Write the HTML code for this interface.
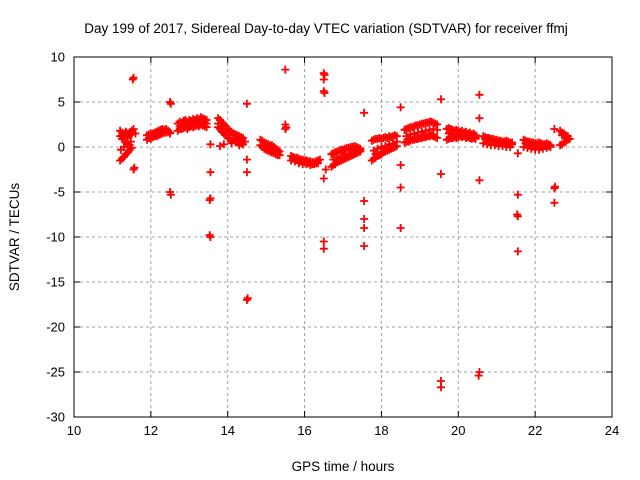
<!DOCTYPE html>
<html><head><meta charset="utf-8"><style>
body{margin:0;background:#fff}
svg{display:block;font-family:"Liberation Sans",sans-serif}
</style></head><body>
<svg id="chart" width="640" height="480" viewBox="0 0 640 480">
<text x="326" y="33" font-size="13.5" text-anchor="middle">Day 199 of 2017, Sidereal Day-to-day VTEC variation (SDTVAR) for receiver ffmj</text>
<text x="343" y="471" font-size="13.5" text-anchor="middle">GPS time / hours</text>
<text transform="translate(19,237) rotate(-90)" font-size="13.5" text-anchor="middle">SDTVAR / TECUs</text>
<g id="grid"></g>
<g id="ticks"></g>
<g id="pts" stroke="#f00" stroke-width="1.8"></g>
<rect x="74" y="57" width="538" height="360" fill="none" stroke="#000" stroke-width="1"/>
</svg>
<script>
const xTicks=[10,12,14,16,18,20,22,24];
const yTicks=[10,5,0,-5,-10,-15,-20,-25,-30];
const hours=[
11.2,11.25,11.3,11.35,11.4,11.45,11.5,11.2,11.25,11.3,11.35,11.4,11.45,11.5,11.2,11.25,11.3,11.35,11.4,11.45,11.5,11.22,11.3,11.4,11.48,
11.55,11.55,11.55,11.6,11.53,11.57,
11.9,11.95,12.0,12.05,12.1,12.15,12.2,12.25,12.3,12.35,12.4,12.45,12.5,11.9,11.95,12.0,12.05,12.1,12.15,12.2,12.25,12.3,12.35,12.4,12.45,12.5,
12.5,12.5,12.52,12.52,
12.7,12.75,12.8,12.85,12.9,12.95,13.0,13.05,13.1,13.15,13.2,13.25,13.3,13.35,13.4,13.45,12.7,12.75,12.8,12.85,12.9,12.95,13.0,13.05,13.1,13.15,13.2,13.25,13.3,13.35,13.4,13.45,12.8,13.0,13.2,13.4,
13.55,13.55,13.55,13.55,13.53,13.53,
13.75,13.8,13.85,13.9,13.95,14.0,14.05,14.1,14.15,14.2,14.25,14.3,14.35,14.4,13.75,13.8,13.85,13.9,13.95,14.0,14.05,14.1,14.15,14.2,14.25,14.3,14.35,14.4,13.8,13.9,14.1,14.3,
14.5,14.5,14.5,14.5,14.52,
14.85,14.9,14.95,15.0,15.05,15.1,15.15,15.2,15.25,15.3,15.35,14.85,14.9,14.95,15.0,15.05,15.1,15.15,15.2,15.25,15.3,15.35,
15.5,15.5,15.5,15.52,
15.65,15.7,15.75,15.8,15.85,15.9,15.95,16.0,16.05,16.1,16.15,16.2,16.25,16.3,16.35,16.4,15.65,15.75,15.85,15.95,16.05,16.15,16.25,16.35,
16.5,16.5,16.5,16.5,16.5,16.5,16.55,16.52,16.52,
16.7,16.75,16.8,16.85,16.9,16.95,17.0,17.05,17.1,17.15,17.2,17.25,17.3,17.35,17.4,17.45,16.7,16.75,16.8,16.85,16.9,16.95,17.0,17.05,17.1,17.15,17.2,17.25,17.3,17.35,17.4,17.45,
17.55,17.55,17.55,17.55,17.55,
17.75,17.8,17.85,17.9,17.95,18.0,18.05,18.1,18.15,18.2,18.25,18.3,18.35,18.4,17.75,17.8,17.85,17.9,17.95,18.0,18.05,18.1,18.15,18.2,18.25,18.3,18.35,18.4,
18.5,18.5,18.5,18.5,
18.6,18.65,18.7,18.75,18.8,18.85,18.9,18.95,19.0,19.05,19.1,19.15,19.2,19.25,19.3,19.35,19.4,19.45,18.6,18.65,18.7,18.75,18.8,18.85,18.9,18.95,19.0,19.05,19.1,19.15,19.2,19.25,19.3,19.35,19.4,19.45,
19.55,19.55,19.55,19.55,
19.7,19.75,19.8,19.85,19.9,19.95,20.0,20.05,20.1,20.15,20.2,20.25,20.3,20.35,20.4,20.45,19.7,19.75,19.8,19.85,19.9,19.95,20.0,20.05,20.1,20.15,20.2,20.25,20.3,20.35,20.4,20.45,
20.55,20.55,20.55,20.55,20.53,
20.65,20.7,20.75,20.8,20.85,20.9,20.95,21.0,21.05,21.1,21.15,21.2,21.25,21.3,21.35,21.4,20.65,20.75,20.85,20.95,21.05,21.15,21.25,21.35,
21.55,21.55,21.55,21.55,21.53,
21.7,21.75,21.8,21.85,21.9,21.95,22.0,22.05,22.1,22.15,22.2,22.25,22.3,22.35,22.4,21.7,21.8,21.9,22.0,22.1,22.2,22.3,22.4,
22.5,22.5,22.5,22.52,
22.65,22.7,22.75,22.8,22.85,22.65,22.7,22.75,22.8,22.85,
12.75,12.85,12.95,13.05,13.15,13.25,13.35,13.45,12.0,12.1,12.2,12.3,12.4,
13.75,13.85,13.95,14.05,14.15,14.25,14.35,14.45,
14.9,15.0,15.1,15.2,15.3,15.7,15.8,15.9,16.0,16.1,16.2,16.3,
16.75,16.85,16.95,17.05,17.15,17.25,17.35,17.45,16.8,17.0,17.2,17.4,
17.8,17.9,18.0,18.1,18.2,18.3,18.4,17.85,18.05,18.25,
18.65,18.75,18.85,18.95,19.05,19.15,19.25,19.35,19.45,18.7,18.9,19.1,19.3,
19.75,19.85,19.95,20.05,20.15,20.25,20.35,20.45,
20.7,20.8,20.9,21.0,21.1,21.2,21.3,21.4,
21.75,21.85,21.95,22.05,22.15,22.25,22.35,
22.7,22.8,22.9,11.25,11.35,11.45
];
const sdtvar=[
1.8,1.6,1.5,1.7,1.5,1.6,1.8,1.2,1.3,1.0,1.2,1.1,1.3,1.4,-1.5,-1.3,-1.1,-0.8,-0.6,-0.3,-0.1,-0.3,0.0,0.3,0.6,
7.7,-2.5,2.0,1.5,7.5,-2.3,
0.8,1.0,0.9,1.1,1.2,1.2,1.3,1.4,1.5,1.6,1.6,1.7,1.6,1.3,1.4,1.5,1.5,1.6,1.7,1.8,1.9,2.0,1.9,2.0,1.8,1.5,
5.0,-5.0,4.8,-5.3,
1.8,2.0,2.0,2.1,2.2,2.0,2.2,2.3,2.2,2.3,2.4,2.3,2.5,2.4,2.3,2.2,2.6,2.8,2.7,2.9,3.0,2.8,3.0,2.9,3.1,3.0,3.2,3.1,3.3,3.2,3.1,3.0,2.2,2.5,2.6,2.8,
0.3,-2.8,-5.7,-10.0,-5.9,-9.8,
3.2,3.0,2.7,2.5,2.3,2.0,1.8,1.7,1.5,1.4,1.3,1.2,1.1,1.0,2.2,2.0,1.7,1.5,1.3,1.0,0.9,0.7,0.8,0.6,0.7,0.5,0.4,0.3,0.1,0.3,0.4,0.2,
4.8,-1.4,-2.8,-17.0,-16.8,
0.8,0.7,0.5,0.4,0.3,0.2,0.2,0.0,-0.2,-0.3,-0.5,0.2,0.0,-0.2,-0.3,-0.4,-0.5,-0.6,-0.7,-0.8,-0.9,-0.9,
8.6,2.5,2.0,2.2,
-1.0,-1.1,-1.2,-1.2,-1.3,-1.4,-1.4,-1.5,-1.5,-1.6,-1.6,-1.7,-1.7,-1.6,-1.5,-1.4,-1.5,-1.6,-1.8,-1.9,-1.9,-2.0,-1.9,-1.8,
8.2,7.5,6.2,-3.5,-10.5,-11.3,-2.5,8.0,6.0,
-2.2,-2.0,-1.9,-1.7,-1.6,-1.5,-1.4,-1.3,-1.2,-1.1,-1.0,-0.9,-0.8,-0.7,-0.6,-0.5,-0.8,-0.7,-0.6,-0.5,-0.4,-0.3,-0.3,-0.2,-0.1,-0.1,0.0,0.0,0.1,0.0,-0.1,-0.2,
3.8,-6.0,-8.0,-9.0,-11.0,
-1.5,-1.3,-1.2,-1.0,-0.9,-0.8,-0.6,-0.5,-0.4,-0.3,-0.2,-0.1,0.0,0.1,0.7,0.8,0.9,0.9,1.0,0.9,1.0,1.1,1.0,1.2,1.1,1.2,1.3,1.2,
4.4,-2.0,-4.5,-9.0,
0.5,0.6,0.6,0.7,0.8,0.8,0.9,0.9,1.0,1.0,1.1,1.1,1.2,1.2,1.3,1.2,1.1,1.0,1.9,2.0,2.1,2.2,2.2,2.3,2.4,2.4,2.5,2.6,2.6,2.7,2.7,2.8,2.8,2.7,2.6,2.5,
5.3,-3.0,-26.0,-26.7,
0.8,0.9,1.0,1.0,1.1,1.0,1.1,1.2,1.1,1.2,1.0,1.1,1.0,0.9,1.0,0.9,2.0,2.1,2.0,1.9,1.8,1.9,1.8,1.7,1.8,1.6,1.7,1.5,1.6,1.4,1.5,1.3,
5.8,3.2,-3.7,-25.0,-25.4,
1.2,1.1,1.0,1.0,0.9,0.9,0.8,0.8,0.7,0.7,0.6,0.6,0.7,0.6,0.5,0.5,0.4,0.3,0.2,0.2,0.1,0.1,0.0,0.0,
-0.7,-5.3,-7.7,-11.6,-7.5,
0.8,0.7,0.6,0.6,0.5,0.5,0.4,0.4,0.5,0.4,0.3,0.3,0.4,0.3,0.2,0.0,-0.1,-0.2,-0.3,-0.3,-0.2,-0.1,0.0,
2.0,-4.6,-6.2,-4.4,
1.8,1.6,1.5,1.3,1.2,0.2,0.3,0.5,0.6,0.8,
2.3,2.5,2.5,2.6,2.7,2.7,2.8,2.6,1.2,1.4,1.6,1.7,1.8,
2.6,2.3,2.0,1.6,1.3,1.0,0.8,0.6,
0.1,-0.1,-0.3,-0.5,-0.7,-1.3,-1.4,-1.6,-1.7,-1.8,-1.9,-1.8,
-1.4,-1.2,-1.0,-0.8,-0.7,-0.5,-0.4,-0.3,-0.6,-0.4,-0.3,-0.2,
-0.4,-0.2,0.0,0.1,0.3,0.4,0.6,-0.8,-0.5,-0.1,
1.2,1.4,1.5,1.6,1.7,1.8,1.9,2.0,1.9,0.9,1.0,1.2,1.3,
1.5,1.4,1.4,1.3,1.3,1.2,1.2,1.1,
0.9,0.8,0.6,0.5,0.4,0.4,0.3,0.3,
0.4,0.2,0.1,0.1,0.0,0.1,0.1,
1.3,1.0,0.9,0.9,0.5,0.2
];
const X0=74,X1=612,Y0=57,Y1=417,xmin=10,xmax=24,ymin=-30,ymax=10;
const xs=v=>X0+(v-xmin)/(xmax-xmin)*(X1-X0);
const ys=v=>Y1-(v-ymin)/(ymax-ymin)*(Y1-Y0);
const NS='http://www.w3.org/2000/svg';
const grid=document.getElementById('grid'),ticks=document.getElementById('ticks'),pts=document.getElementById('pts');
function mk(tag,attrs,parent){const e=document.createElementNS(NS,tag);for(const k in attrs)e.setAttribute(k,attrs[k]);parent.appendChild(e);return e;}
xTicks.forEach(t=>{const x=xs(t);
 if(t>xmin&&t<xmax){const g=mk('line',{x1:x,x2:x,y1:Y0,y2:Y1,stroke:'#a0a0a0','stroke-dasharray':'3,3'},grid);}
 mk('line',{x1:x,x2:x,y1:Y1,y2:Y1-6,stroke:'#000'},ticks);mk('line',{x1:x,x2:x,y1:Y0,y2:Y0+6,stroke:'#000'},ticks);
 const l=mk('text',{x:x,y:Y1+18,'font-size':13,'text-anchor':'middle'},ticks);l.textContent=t;
 });
yTicks.forEach(t=>{const y=ys(t);
 if(t>ymin&&t<ymax){const g=mk('line',{x1:X0,x2:X1,y1:y,y2:y,stroke:'#a0a0a0','stroke-dasharray':'3,3'},grid);}
 mk('line',{x1:X0,x2:X0+6,y1:y,y2:y,stroke:'#000'},ticks);mk('line',{x1:X1,x2:X1-6,y1:y,y2:y,stroke:'#000'},ticks);
 const l=mk('text',{x:X0-9,y:y+4.5,'font-size':13,'text-anchor':'end'},ticks);l.textContent=t;
 });
hours.forEach((h,i)=>{const x=xs(h),y=ys(sdtvar[i]);
 const p=mk('path',{d:`M${x-4},${y}h8M${x},${y-4}v8`},pts);
 
 });
</script>
</body></html>
